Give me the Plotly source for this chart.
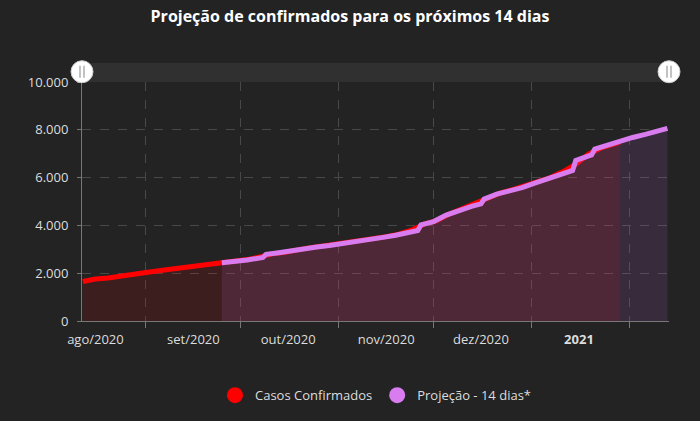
import plotly.graph_objects as go

# Casos confirmados (acumulado)
conf_dates = [
    "2020-07-28", "2020-08-01", "2020-08-05", "2020-08-09", "2020-08-13",
    "2020-08-17", "2020-08-21", "2020-08-25", "2020-08-29", "2020-09-02",
    "2020-09-06", "2020-09-10", "2020-09-14", "2020-09-18", "2020-09-22",
    "2020-09-26", "2020-09-30", "2020-10-04", "2020-10-08", "2020-10-12",
    "2020-10-16", "2020-10-20", "2020-10-24", "2020-10-28", "2020-11-01",
    "2020-11-05", "2020-11-09", "2020-11-13", "2020-11-17", "2020-11-21",
    "2020-11-25", "2020-11-29", "2020-12-03", "2020-12-07", "2020-12-11",
    "2020-12-15", "2020-12-19", "2020-12-23", "2020-12-27", "2020-12-31",
    "2021-01-04", "2021-01-08", "2021-01-12", "2021-01-14",
]
conf_values = [
    1655, 1760, 1800, 1890, 1960,
    2030, 2100, 2160, 2230, 2300,
    2370, 2440, 2500, 2570, 2680,
    2810, 2880, 2990, 3070, 3140,
    3210, 3290, 3370, 3440, 3530,
    3630, 3800, 4050, 4200, 4480,
    4700, 4920, 5150, 5350, 5500,
    5660, 5820, 6000, 6250, 6560,
    6980, 7240, 7400, 7480,
]

# Projeção - 14 dias
proj_dates = [
    "2020-09-10", "2020-09-14", "2020-09-18", "2020-09-23", "2020-09-24",
    "2020-09-28", "2020-10-02", "2020-10-06", "2020-10-10", "2020-10-14",
    "2020-10-18", "2020-10-22", "2020-10-26", "2020-10-27", "2020-10-31",
    "2020-11-04", "2020-11-08", "2020-11-11", "2020-11-12", "2020-11-16",
    "2020-11-20", "2020-11-24", "2020-11-28", "2020-12-01", "2020-12-02",
    "2020-12-06", "2020-12-10", "2020-12-14", "2020-12-18", "2020-12-22",
    "2020-12-26", "2020-12-29", "2020-12-30", "2020-12-31", "2021-01-03",
    "2021-01-05", "2021-01-06", "2021-01-10", "2021-01-14", "2021-01-18",
    "2021-01-22", "2021-01-26", "2021-01-29",
]
proj_values = [
    2440, 2490, 2550, 2660, 2790,
    2860, 2950, 3030, 3100, 3160,
    3240, 3300, 3350, 3420, 3500,
    3590, 3700, 3790, 4020, 4160,
    4430, 4640, 4800, 4900, 5100,
    5310, 5440, 5580, 5770, 5930,
    6120, 6250, 6300, 6720, 6840,
    6950, 7190, 7360, 7560, 7680,
    7810, 7940, 8060,
]

month_ticks = ["2020-08-01", "2020-09-01", "2020-10-01", "2020-11-01",
               "2020-12-01", "2021-01-01"]
month_labels = ["ago/2020", "set/2020", "out/2020", "nov/2020",
                "dez/2020", "<b>2021</b>"]
grid_ticks = ["2020-08-17", "2020-09-16", "2020-10-17", "2020-11-16",
              "2020-12-17", "2021-01-17"]

BG = "#232323"
RED = "#ff0000"
PURPLE = "#d97cf0"
FONT = "Open Sans, Noto Sans, sans-serif"

fig = go.Figure()

fig.add_trace(go.Scatter(
    x=conf_dates, y=conf_values, mode="lines",
    line=dict(color=RED, width=5),
    fill="tozeroy", fillcolor="rgba(255,0,0,0.12)",
    showlegend=False, hoverinfo="skip"))

fig.add_trace(go.Scatter(
    x=proj_dates, y=proj_values, mode="lines",
    line=dict(color=PURPLE, width=5),
    fill="tozeroy", fillcolor="rgba(200,110,235,0.13)",
    showlegend=False, hoverinfo="skip"))

# legend entries with round symbols
for nm, col in [("Casos Confirmados", RED), ("Projeção - 14 dias*", PURPLE)]:
    fig.add_trace(go.Scatter(
        x=[None], y=[None], mode="markers", name=nm,
        marker=dict(size=20, color=col)))

# scrollbar on top of the plot
fig.add_shape(type="rect", xref="paper", yref="paper",
              x0=0, x1=1, y0=1.0, y1=1.08,
              fillcolor="#303030", line_width=0, layer="below")
for xp in [0, 1]:
    fig.add_shape(type="circle", xref="paper", yref="paper",
                  xsizemode="pixel", ysizemode="pixel",
                  xanchor=xp, yanchor=1.043,
                  x0=-11, x1=11, y0=-11, y1=11,
                  fillcolor="white", line=dict(color="#cccccc", width=1))
    for dx in [-2, 2]:
        fig.add_shape(type="line", xref="paper", yref="paper",
                      xsizemode="pixel", ysizemode="pixel",
                      xanchor=xp, yanchor=1.043,
                      x0=dx, x1=dx, y0=-6, y1=6,
                      line=dict(color="#9a9a9a", width=1.2))

fig.update_layout(
    width=700, height=421,
    paper_bgcolor=BG, plot_bgcolor=BG,
    margin=dict(l=82, r=31, t=82, b=99),
    separators=",.",
    font=dict(family=FONT, color="#dddddd", size=13),
    title=dict(text="<b>Projeção de confirmados para os próximos 14 dias</b>",
               x=0.5, xanchor="center", y=0.96, yanchor="middle",
               font=dict(size=16, color="white")),
    legend=dict(orientation="h", x=0.5, xanchor="center",
                y=-0.305, yanchor="middle",
                font=dict(size=13, color="#dddddd"),
                bgcolor="rgba(0,0,0,0)"),
    xaxis=dict(
        type="date",
        range=["2020-07-27 18:00", "2021-01-29 12:00"],
        tickmode="array", tickvals=month_ticks, ticktext=month_labels,
        showgrid=False, ticks="", ticklabelstandoff=6,
        showline=True, linecolor="#777777", linewidth=1,
        zeroline=False,
        minor=dict(tickmode="array", tickvals=grid_ticks,
                   showgrid=True, gridcolor="#484848", griddash="dash",
                   gridwidth=1, ticks="outside", ticklen=6,
                   tickcolor="#777777"),
    ),
    yaxis=dict(
        range=[0, 10000], tickvals=[0, 2000, 4000, 6000, 8000, 10000],
        tickformat=",d",
        showgrid=True, gridcolor="#484848", griddash="dash", gridwidth=1,
        ticks="outside", ticklen=4, tickcolor="#777777",
        showline=True, linecolor="#777777", linewidth=1,
        zeroline=False, ticklabelstandoff=6,
    ),
)

fig.write_html("out.html", config={"displayModeBar": False},
               post_script="document.body.style.margin='0';")
